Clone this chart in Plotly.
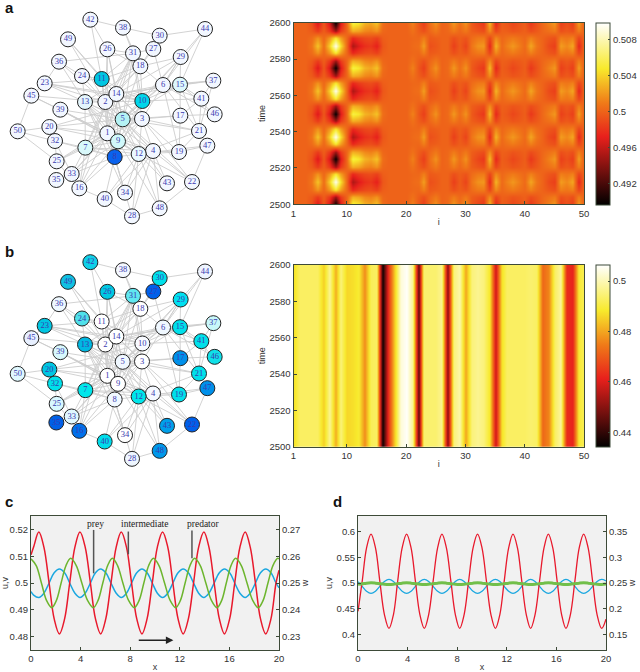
"""Coupled-network pattern figure: two node graphs, two heatmaps, two profile plots."""

import plotly.graph_objects as go

# ---------- data: network ----------
NODE_IDS = list(range(1, 51))
# node positions (same layout in a and b)
NODE_X = [322, 316, 426, 459, 368, 489, 256, 344, 354, 427,
          305, 416, 255, 349, 540, 238, 541, 421, 537, 148,
          597, 576, 134, 246, 170, 322, 460, 396, 542, 479,
          399, 165, 215, 375, 169, 177, 640, 369, 181, 314,
          604, 271, 501, 615, 94, 644, 622, 479, 204, 53]
NODE_Y = [400, 306, 357, 453, 358, 255, 443, 471, 424, 303,
          237, 462, 306, 282, 254, 565, 347, 199, 456, 381,
          393, 546, 250, 228, 484, 148, 147, 649, 171, 107,
          160, 423, 522, 578, 540, 185, 242, 83, 329, 597,
          296, 59, 550, 87, 287, 343, 437, 625, 118, 394]
EDGES = [
    (42, 38), (42, 11), (42, 26), (38, 30), (38, 31), (38, 18), (44, 30), (44, 29), (44, 15), (44, 6),
    (30, 27), (30, 18), (27, 31), (27, 18), (27, 6), (49, 11), (49, 14), (49, 2), (36, 31), (36, 23),
    (36, 24), (36, 13), (36, 2), (24, 13), (24, 2), (24, 11), (23, 45), (23, 10), (23, 14), (23, 11),
    (23, 2), (23, 5), (45, 39), (45, 50), (45, 1), (45, 2), (39, 5), (39, 1), (39, 9), (39, 12),
    (50, 20), (50, 32), (50, 25), (20, 5), (20, 10), (20, 1), (20, 32), (20, 9), (32, 7), (32, 8),
    (32, 25), (32, 33), (25, 1), (25, 7), (25, 5), (25, 16), (35, 33), (33, 1), (33, 7), (33, 9),
    (33, 5), (33, 8), (16, 1), (16, 7), (16, 9), (16, 40), (16, 8), (16, 2), (40, 8), (40, 28),
    (40, 12), (40, 4), (34, 8), (34, 13), (34, 1), (34, 4), (34, 12), (28, 12), (28, 4), (28, 48),
    (28, 8), (48, 22), (48, 4), (48, 9), (48, 12), (43, 4), (43, 5), (43, 12), (22, 47), (22, 4),
    (22, 5), (22, 3), (22, 12), (19, 3), (19, 4), (19, 12), (19, 17), (19, 6), (19, 21), (47, 12),
    (47, 21), (47, 19), (21, 15), (21, 3), (21, 5), (21, 41), (21, 6), (21, 12), (21, 37), (17, 15),
    (17, 3), (17, 5), (17, 46), (17, 41), (46, 15), (46, 6), (41, 15), (41, 6), (41, 10), (41, 37),
    (37, 15), (37, 6), (37, 14), (15, 29), (15, 6), (15, 10), (15, 14), (15, 2), (15, 5), (6, 29),
    (6, 18), (6, 10), (6, 14), (6, 5), (6, 2), (29, 10), (29, 14), (29, 5), (29, 3), (29, 18),
    (10, 18), (10, 31), (10, 14), (10, 2), (10, 5), (10, 1), (10, 9), (10, 8), (3, 31), (3, 2),
    (3, 14), (3, 1), (3, 12), (3, 4), (3, 9), (3, 8), (3, 7), (18, 11), (18, 14), (18, 2),
    (18, 5), (18, 13), (31, 11), (31, 14), (31, 2), (31, 1), (31, 5), (31, 7), (26, 14), (26, 31),
    (26, 18), (26, 5), (26, 1), (26, 2), (11, 14), (11, 2), (11, 5), (11, 1), (11, 3), (11, 10),
    (13, 2), (13, 14), (13, 5), (13, 1), (13, 9), (13, 12), (13, 4), (13, 8), (14, 2), (14, 5),
    (14, 1), (14, 9), (14, 3), (2, 5), (2, 1), (2, 9), (2, 8), (2, 12), (2, 4), (2, 7),
    (5, 1), (5, 9), (5, 8), (5, 7), (5, 4), (5, 12), (5, 3), (1, 9), (1, 8), (1, 7),
    (1, 12), (1, 4), (9, 8), (9, 12), (9, 4), (9, 7), (7, 8), (7, 13), (7, 12), (7, 4),
    (8, 12), (12, 4),
]

PALE = "#f2f7ff"
NODE_COLOR_A = [PALE, PALE, PALE, PALE, "#b4f2f4", PALE, "#d8f8fa", "#0a62ee", "#d0f8fa", "#00d6ea",
                "#00c6e2", "#eaf8ff", "#e4f6fc", PALE, "#def8fc", PALE, PALE, PALE, PALE, PALE,
                PALE, PALE, PALE, PALE, PALE, PALE, PALE, PALE, PALE, PALE,
                PALE, PALE, PALE, PALE, PALE, PALE, PALE, PALE, PALE, PALE,
                PALE, PALE, PALE, PALE, PALE, PALE, PALE, PALE, PALE, PALE]
NODE_COLOR_B = ["#ffffff", "#ffffff", "#ffffff", "#f4f8ff", "#f0f8ff", "#f0f8ff", "#00e6ea", "#f0f8ff", "#ffffff", "#f8faff",
                "#ffffff", "#00e6ea", "#00b8e2", "#ffffff", "#00e0ea", "#0070ea", "#0090ea", "#ffffff", "#00e0ea", "#00c6e2",
                "#00e0ea", "#0060ea", "#00c6e2", "#50e0ea", "#d8f8ff", "#00c8e2", "#0060ea", "#eef6ff", "#00e0f0", "#00e0ea",
                "#60e8f0", "#00e0ea", "#e0f8ff", "#ffffff", "#0060e6", "#eef8ff", "#c8f8fa", "#f4f8ff", "#d8f8fc", "#00dcea",
                "#00e0ea", "#10d0e8", "#00a0ea", "#eef4ff", "#e8f0ff", "#10e0e8", "#0090ea", "#0098ea", "#10c0e2", "#e0f8ff"]

# ---------- data: heatmap a ----------
I_VALUES = list(range(1, 51))
PROFILE_HI = [.5, .5, .5, .5008, .5035, .5005, .5040, .5095, .5045, .5003,
              .4953, .4968, .4978, .4982, .4972, .4995, .5, .5, .5, .5,
              .5003, .5005, .5022, .4992, .4995, .5, .5, .4985, .4997, .4987,
              .5008, .5018, .5020, .4975, .5030, .5003, .5012, .5020, .5012, .5003,
              .5025, .5008, .5, .4990, .4985, .5022, .5015, .5025, .4975, .5005]
PROFILE_HI_HALF = [.5, .5, .5, .5004, .5018, .5002, .5020, .5048, .5022, .5002,
                   .4976, .4984, .4989, .4991, .4986, .4998, .5, .5, .5, .5,
                   .5002, .5002, .5011, .4996, .4998, .5, .5, .4992, .4998, .4994,
                   .5004, .5009, .5010, .4988, .5015, .5002, .5006, .5010, .5006, .5002,
                   .5012, .5004, .5, .4995, .4992, .5011, .5008, .5012, .4988, .5002]
PROFILE_LO_HALF = [.5, .5, .5, .4996, .4984, .4998, .4982, .4948, .4984, .5001,
                   .5028, .5024, .5015, .5012, .5018, .5002, .5, .5, .5, .5,
                   .5006, .4998, .4992, .5002, .5009, .5, .5002, .5010, .5002, .5009,
                   .4998, .4994, .4991, .5016, .4988, .4999, .4998, .4994, .4996, .4999,
                   .4991, .4996, .5002, .5006, .5010, .4992, .4996, .4992, .5011, .4998]
PROFILE_LO = [.5, .5, .5, .4992, .4968, .4995, .4965, .4897, .4968, .5002,
              .5055, .5048, .5030, .5025, .5035, .5005, .5, .5, .5, .5,
              .5012, .4995, .4985, .5005, .5018, .5, .5003, .5020, .5005, .5018,
              .4996, .4988, .4982, .5032, .4975, .4998, .4995, .4988, .4993, .4998,
              .4982, .4993, .5003, .5012, .5020, .4985, .4992, .4985, .5022, .4995]
TIME_A = [2500, 2504.2, 2508.3, 2512.5, 2516.7, 2520.8,
          2525, 2529.2, 2533.3, 2537.5, 2541.7, 2545.8,
          2550, 2554.2, 2558.3, 2562.5, 2566.7, 2570.8,
          2575, 2579.2, 2583.3, 2587.5, 2591.7, 2595.8,
          2600]
ROWS_A = [PROFILE_LO, PROFILE_LO_HALF, PROFILE_HI_HALF, PROFILE_HI, PROFILE_HI_HALF, PROFILE_LO_HALF,
          PROFILE_LO, PROFILE_LO_HALF, PROFILE_HI_HALF, PROFILE_HI, PROFILE_HI_HALF, PROFILE_LO_HALF,
          PROFILE_LO, PROFILE_LO_HALF, PROFILE_HI_HALF, PROFILE_HI, PROFILE_HI_HALF, PROFILE_LO_HALF,
          PROFILE_LO, PROFILE_LO_HALF, PROFILE_HI_HALF, PROFILE_HI, PROFILE_HI_HALF, PROFILE_LO_HALF,
          PROFILE_LO]

# ---------- data: heatmap b (stationary in time) ----------
PROFILE_B = [.487, .493, .493, .493, .493, .485, .497, .481, .495, .486,
             .487, .489, .477, .492, .493, .436, .465, .485, .503, .506,
             .497, .445, .494, .494, .494, .497, .450, .495, .499, .480,
             .495, .497, .495, .488, .458, .487, .493, .493, .493, .493,
             .494, .493, .472, .476, .493, .498, .463, .462, .489, .492]
TIME_B = [2500, 2600]
ROWS_B = [PROFILE_B, PROFILE_B]

# ---------- data: panel c ----------
C_X = [0, .21, .63, 1.04, 1.46, 1.87, 2.29, 2.71, 3.12, 3.54,
       3.95, 4.37, 4.79, 5.20, 5.62, 6.03, 6.45, 6.87, 7.28, 7.70,
       8.11, 8.53, 8.95, 9.36, 9.78, 10.19, 10.61, 11.03, 11.44, 11.86,
       12.27, 12.69, 13.11, 13.52, 13.94, 14.35, 14.77, 15.19, 15.60, 16.02,
       16.43, 16.85, 17.27, 17.68, 18.10, 18.51, 18.93, 19.35, 19.76, 20]
C_RED = [.5105, .5134,
         .519, .5134, .5, .4866, .481, .4866, .5, .5134,
         .519, .5134, .5, .4866, .481, .4866, .5, .5134,
         .519, .5134, .5, .4866, .481, .4866, .5, .5134,
         .519, .5134, .5, .4866, .481, .4866, .5, .5134,
         .519, .5134, .5, .4866, .481, .4866, .5, .5134,
         .519, .5134, .5, .4866, .481, .4866, .5, .5048]
C_BLUE = [.4968, .4955,
          .4946, .4962, .5, .5038, .5052, .5038, .5, .4962,
          .4946, .4962, .5, .5038, .5052, .5038, .5, .4962,
          .4946, .4962, .5, .5038, .5052, .5038, .5, .4962,
          .4946, .4962, .5, .5038, .5052, .5038, .5, .4962,
          .4946, .4962, .5, .5038, .5052, .5038, .5, .4962,
          .4946, .4962, .5, .5038, .5052, .5038, .5, .4982]
C_GREEN_X = [0, .42, .84, 1.25, 1.67, 2.05, 2.43, 2.82,
             3.2, 3.65, 4.1, 4.56, 5.03, 5.41, 5.79, 6.18,
             6.56, 6.98, 7.41, 7.87, 8.33, 8.72, 9.1, 9.49,
             9.87, 10.32, 10.77, 11.22, 11.67, 12.05, 12.43, 12.82,
             13.2, 13.65, 14.1, 14.55, 15, 15.38, 15.75, 16.13,
             16.5, 16.96, 17.42, 17.88, 18.33, 18.72, 19.11, 19.51,
             19.9, 20]
C_GREEN = [.2590, .2565, .25, .2435, .2408, .2435, .25, .2565,
           .2592, .2565, .25, .2435, .2408, .2435, .25, .2565,
           .2592, .2565, .25, .2435, .2408, .2435, .25, .2565,
           .2592, .2565, .25, .2435, .2408, .2435, .25, .2565,
           .2592, .2565, .25, .2435, .2408, .2435, .25, .2565,
           .2592, .2565, .25, .2435, .2408, .2435, .25, .2565,
           .2592, .2590]

# ---------- data: panel d ----------
D_X = [0, .34, .69, 1.05, 1.41, 1.76, 2.13, 2.5, 2.86, 3.2, 3.56,
       3.92, 4.28, 4.63, 4.99, 5.35, 5.7, 6.06, 6.42,
       6.77, 7.13, 7.49, 7.85, 8.2, 8.56, 8.92, 9.28,
       9.64, 10, 10.36, 10.72, 11.08, 11.44, 11.79, 12.15,
       12.5, 12.86, 13.21, 13.57, 13.92, 14.28, 14.64, 15,
       15.35, 15.71, 16.06, 16.42, 16.77, 17.13, 17.49, 17.84,
       18.2, 18.56, 18.92, 19.28, 19.65, 20]
D_RED = [.445, .5035, .5682,
         .595, .5682, .5035, .4388, .412, .4388, .5035, .5682,
         .595, .5682, .5035, .4388, .412, .4388, .5035, .5682,
         .595, .5682, .5035, .4388, .412, .4388, .5035, .5682,
         .595, .5682, .5035, .4388, .412, .4388, .5035, .5682,
         .595, .5682, .5035, .4388, .412, .4388, .5035, .5682,
         .595, .5682, .5035, .4388, .412, .4388, .5035, .5682,
         .595, .5682, .5035, .4388, .412, .430]
D_BLUE = [.5025, .4935, .484,
          .48, .484, .4935, .503, .507, .503, .4935, .484,
          .48, .484, .4935, .503, .507, .503, .4935, .484,
          .48, .484, .4935, .503, .507, .503, .4935, .484,
          .48, .484, .4935, .503, .507, .503, .4935, .484,
          .48, .484, .4935, .503, .507, .503, .4935, .484,
          .48, .484, .4935, .503, .507, .503, .4935, .484,
          .48, .484, .4935, .503, .507, .504]
D_GREEN = [.2475, .2485, .2497,
           .2503, .2497, .2487, .2477, .2473, .2477, .2487, .2497,
           .2503, .2497, .2487, .2477, .2473, .2477, .2487, .2497,
           .2503, .2497, .2487, .2477, .2473, .2477, .2487, .2497,
           .2503, .2497, .2487, .2477, .2473, .2477, .2487, .2497,
           .2503, .2497, .2487, .2477, .2473, .2477, .2487, .2497,
           .2503, .2497, .2487, .2477, .2473, .2477, .2487, .2497,
           .2503, .2497, .2487, .2477, .2473, .2480]

# ---------- display settings ----------
W, H = 640, 672
TEXT_COLOR = "#333333"
FRAME_COLOR = "#3d4a38"
EDGE_COLOR = "#cdcdcd"
NODE_TEXT_COLOR = "#3a3ab0"
# hot map, slightly muted like the printed figure
MATLAB_HOT = [[0, "#000000"], [0.375, "#e8201c"], [0.56, "#f07a18"], [0.75, "#f8ea2c"], [1, "#ffffff"]]
TICK_FONT = dict(family="Liberation Sans", size=9.5, color=TEXT_COLOR)
LINE_FONT = dict(family="Liberation Sans", size=9, color=TEXT_COLOR)
SERIF_FONT = dict(family="Liberation Serif", size=9.5, color="#222222")


def dom_x(left, right):
    return [left / W, right / W]


def dom_y(top, bottom):
    return [1 - bottom / H, 1 - top / H]


fig = go.Figure()


# ---------- network panels ----------
def add_network(colors, xa, ya):
    edge_x, edge_y = [], []
    for a, b in EDGES:
        edge_x += [NODE_X[a - 1], NODE_X[b - 1], None]
        edge_y += [NODE_Y[a - 1], NODE_Y[b - 1], None]
    fig.add_trace(go.Scatter(
        x=edge_x, y=edge_y, xaxis=xa, yaxis=ya, mode="lines",
        line=dict(color=EDGE_COLOR, width=0.9), hoverinfo="skip",
    ))
    fig.add_trace(go.Scatter(
        x=NODE_X, y=NODE_Y, xaxis=xa, yaxis=ya, mode="markers+text",
        marker=dict(size=15, color=colors, line=dict(color="#242424", width=1)),
        text=[str(n) for n in NODE_IDS], textposition="middle center",
        textfont=dict(family="Liberation Serif", size=8.5, color=NODE_TEXT_COLOR),
    ))


add_network(NODE_COLOR_A, "x", "y")
add_network(NODE_COLOR_B, "x2", "y2")

# ---------- heatmaps ----------
fig.add_trace(go.Heatmap(
    x=I_VALUES, y=TIME_A, z=ROWS_A, xaxis="x3", yaxis="y3", zsmooth="best",
    colorscale=MATLAB_HOT, zmin=.4896, zmax=.5099,
    colorbar=dict(
        x=596 / W, xanchor="left", xpad=0, y=1 - 22.7 / H, yanchor="top", ypad=0,
        thicknessmode="pixels", thickness=14, lenmode="pixels", len=181.5,
        tickvals=[.492, .496, .5, .504, .508], ticktext=["0.492", "0.496", "0.5", "0.504", "0.508"],
        ticks="inside", ticklen=2, tickcolor=FRAME_COLOR, outlinecolor=FRAME_COLOR, outlinewidth=1,
        tickfont=TICK_FONT,
    ),
))
fig.add_trace(go.Heatmap(
    x=I_VALUES, y=TIME_B, z=ROWS_B, xaxis="x4", yaxis="y4", zsmooth="best",
    colorscale=MATLAB_HOT, zmin=.4342, zmax=.5064,
    colorbar=dict(
        x=596 / W, xanchor="left", xpad=0, y=1 - 265 / H, yanchor="top", ypad=0,
        thicknessmode="pixels", thickness=14, lenmode="pixels", len=181.7,
        tickvals=[.44, .46, .48, .5], ticktext=["0.44", "0.46", "0.48", "0.5"],
        ticks="inside", ticklen=2, tickcolor=FRAME_COLOR, outlinecolor=FRAME_COLOR, outlinewidth=1,
        tickfont=TICK_FONT,
    ),
))

# ---------- profile panels ----------
fig.add_trace(go.Scatter(x=C_GREEN_X, y=C_GREEN, xaxis="x5", yaxis="y6", mode="lines",
                         line=dict(color="#6cb52d", width=1.5, shape="spline")))
fig.add_trace(go.Scatter(x=C_X, y=C_BLUE, xaxis="x5", yaxis="y5", mode="lines",
                         line=dict(color="#1aa7e0", width=1.5, shape="spline")))
fig.add_trace(go.Scatter(x=C_X, y=C_RED, xaxis="x5", yaxis="y5", mode="lines",
                         line=dict(color="#e8192c", width=1.5, shape="spline")))
fig.add_trace(go.Scatter(x=D_X, y=D_BLUE, xaxis="x6", yaxis="y7", mode="lines",
                         line=dict(color="#1aa7e0", width=1.3, shape="spline")))
fig.add_trace(go.Scatter(x=D_X, y=D_RED, xaxis="x6", yaxis="y7", mode="lines",
                         line=dict(color="#e8192c", width=1.3, shape="spline")))
fig.add_trace(go.Scatter(x=D_X, y=D_GREEN, xaxis="x6", yaxis="y8", mode="lines",
                         line=dict(color="#72bf4a", width=3, shape="spline")))

# ---------- layout ----------
hidden = dict(visible=False, fixedrange=True)
frame = dict(showline=True, linecolor=FRAME_COLOR, linewidth=1, mirror=True, showgrid=False,
             zeroline=False, ticks="inside", ticklen=3, tickcolor=FRAME_COLOR, tickfont=TICK_FONT)


def axis_title(text, standoff):
    return dict(text=text, font=LINE_FONT, standoff=standoff)


fig.update_layout(
    width=W, height=H, margin=dict(l=0, r=0, t=0, b=0, autoexpand=False), showlegend=False,
    paper_bgcolor="white", plot_bgcolor="white", hovermode=False,
    font=dict(family="Liberation Sans", color=TEXT_COLOR),
    xaxis=dict(domain=dom_x(0, 240), range=[0, 720], **hidden),
    yaxis=dict(domain=dom_y(0, 225), range=[675, 0], **hidden),
    xaxis2=dict(domain=dom_x(0, 240), range=[0, 720], **hidden),
    yaxis2=dict(domain=dom_y(242.5, 467.5), range=[675, 0], **hidden),
    xaxis3=dict(domain=dom_x(293.5, 584), range=[1, 50], anchor="y3",
                tickvals=[1, 10, 20, 30, 40, 50], title=axis_title("i", 0), **frame),
    yaxis3=dict(domain=dom_y(22.7, 204.3), range=[2500, 2600], anchor="x3",
                tickvals=[2500, 2520, 2540, 2560, 2580, 2600], title=axis_title("time", 2), **frame),
    xaxis4=dict(domain=dom_x(293.5, 584), range=[1, 50], anchor="y4",
                tickvals=[1, 10, 20, 30, 40, 50], title=axis_title("i", 0), **frame),
    yaxis4=dict(domain=dom_y(265, 446.7), range=[2500, 2600], anchor="x4",
                tickvals=[2500, 2520, 2540, 2560, 2580, 2600], title=axis_title("time", 2), **frame),
    xaxis5=dict(domain=dom_x(31, 279), range=[0, 20], anchor="y5",
                tickvals=[0, 4, 8, 12, 16, 20], title=axis_title("x", 0), **frame),
    yaxis5=dict(domain=dom_y(516, 650), range=[.475, .525], anchor="x5",
                tickvals=[.48, .49, .5, .51, .52], ticktext=["0.48", "0.49", "0.5", "0.51", "0.52"],
                title=axis_title("u,v", 2), **frame),
    yaxis6=dict(domain=dom_y(516, 650), range=[.225, .275], anchor="x5", overlaying="y5", side="right",
                tickvals=[.23, .24, .25, .26, .27], ticktext=["0.23", "0.24", "0.25", "0.26", "0.27"],
                title=axis_title("w", 2), **{**frame, "mirror": False}),
    xaxis6=dict(domain=dom_x(358, 606), range=[0, 20], anchor="y7",
                tickvals=[0, 4, 8, 12, 16, 20], title=axis_title("x", 0), **frame),
    yaxis7=dict(domain=dom_y(516, 650), range=[.37, .63], anchor="x6",
                tickvals=[.4, .45, .5, .55, .6], ticktext=["0.4", "0.45", "0.5", "0.55", "0.6"],
                title=axis_title("u,v", 2), **frame),
    yaxis8=dict(domain=dom_y(516, 650), range=[.12, .38], anchor="x6", overlaying="y7", side="right",
                tickvals=[.15, .2, .25, .3, .35], ticktext=["0.15", "0.2", "0.25", "0.3", "0.35"],
                title=axis_title("w", 2), **{**frame, "mirror": False}),
)

# grey plot backgrounds and the label leader lines of panel c
for xa, ya in (("x5", "y5"), ("x6", "y7")):
    fig.add_shape(type="rect", xref=f"{xa} domain", yref=f"{ya} domain", x0=0, x1=1, y0=0, y1=1,
                  fillcolor="#f1f1f1", line_width=0, layer="below")
for lx, y0, y1 in ((5.05, .5198, .5036), (7.85, .5192, .5107), (12.98, .5196, .5092)):
    fig.add_shape(type="line", xref="x5", yref="y5", x0=lx, x1=lx, y0=y0, y1=y1,
                  line=dict(color="#555555", width=1.5))

for text, tx in (("prey", 5.2), ("intermediate", 9.17), ("predator", 13.84)):
    fig.add_annotation(text=text, xref="x5", yref="y5", x=tx, y=.5219, showarrow=False, font=SERIF_FONT)
fig.add_annotation(xref="x5", yref="y5", x=11.48, y=.4786, ax=8.57, ay=.4786, axref="x5", ayref="y5", text="",
                   showarrow=True, arrowhead=2, arrowsize=1, arrowwidth=1.5, arrowcolor="#222222")

for letter, px, py in (("a", 3, 8), ("b", 3, 251), ("c", 3, 501), ("d", 331, 501)):
    fig.add_annotation(text=f"<b>{letter}</b>", xref="paper", yref="paper", x=px / W, y=1 - py / H,
                       xanchor="left", yanchor="middle", showarrow=False,
                       font=dict(family="Liberation Sans", size=15, color="#111111"))

# the default page margin would push the 640 px figure out of the window
fig.write_html("out.html", config={"displayModeBar": False},
               post_script="document.body.style.margin = '0';")
